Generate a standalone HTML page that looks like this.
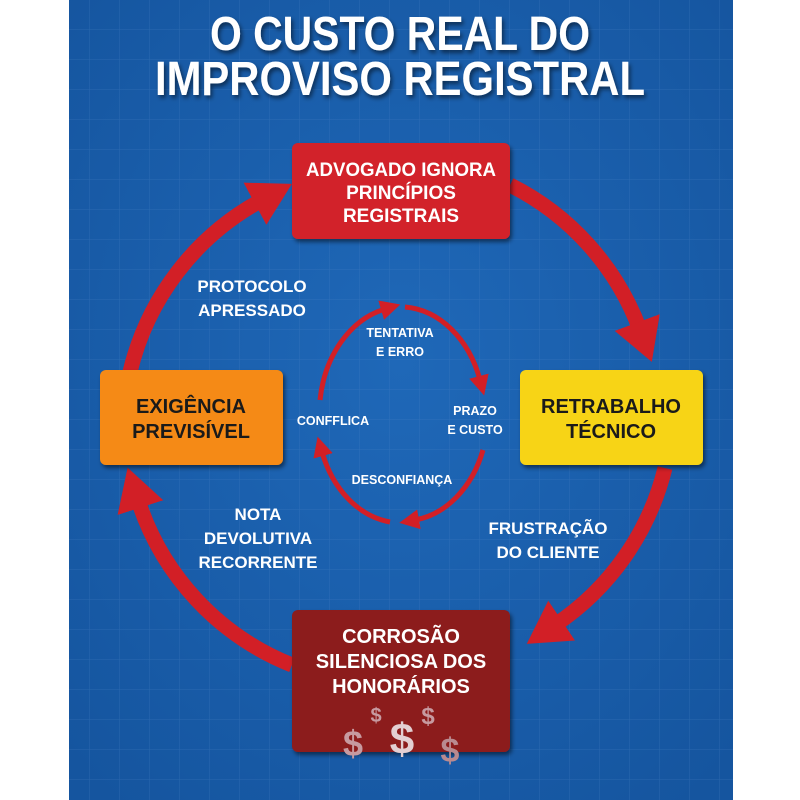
<!DOCTYPE html>
<html><head><meta charset="utf-8"><style>
html,body{margin:0;padding:0;background:#fff}
svg{display:block}
text{font-family:"Liberation Sans",sans-serif;font-weight:bold;fill:#fff;text-anchor:middle}
</style></head><body>
<svg width="800" height="800" viewBox="0 0 800 800" xmlns="http://www.w3.org/2000/svg">
<defs>
<pattern id="g" width="30" height="30" patternUnits="userSpaceOnUse">
<path d="M30 0V30H0" fill="none" stroke="#4f86c8" stroke-opacity="0.35" stroke-width="1"/>
</pattern>
<radialGradient id="bg" cx="50%" cy="45%" r="70%">
<stop offset="0" stop-color="#1f68b8"/><stop offset="1" stop-color="#15559f"/>
</radialGradient>
<marker id="big" markerUnits="userSpaceOnUse" markerWidth="60" markerHeight="60" refX="8" refY="24" orient="auto">
<path d="M0 0L42 24L0 48Z" fill="#d21f26"/>
</marker>
<marker id="sm" markerUnits="userSpaceOnUse" markerWidth="30" markerHeight="30" refX="4" refY="10" orient="auto">
<path d="M0 0L20 10L0 20Z" fill="#d21f26"/>
</marker>
<filter id="sh"><feDropShadow dx="2" dy="3" stdDeviation="2" flood-color="#000" flood-opacity="0.5"/></filter>
</defs>
<rect x="69" y="0" width="664" height="800" fill="url(#bg)"/>
<rect x="69" y="0" width="664" height="800" fill="url(#g)"/>

<g filter="url(#sh)">
<text x="400" y="50" font-size="48" textLength="380" lengthAdjust="spacingAndGlyphs">O CUSTO REAL DO</text>
<text x="400" y="95" font-size="48" textLength="490" lengthAdjust="spacingAndGlyphs">IMPROVISO REGISTRAL</text>
</g>

<g fill="none" stroke="#d21f26" stroke-width="15">
<path d="M130 372 A265 265 0 0 1 262 200" marker-end="url(#big)"/>
<path d="M510 185 A265 265 0 0 1 640 330" marker-end="url(#big)"/>
<path d="M665 468 A265 265 0 0 1 555 625" marker-end="url(#big)"/>
<path d="M292 665 A265 265 0 0 1 138 500" marker-end="url(#big)"/>
</g>
<g fill="none" stroke="#d21f26" stroke-width="5">
<path d="M320 400 A85 108 0 0 1 385 309" marker-end="url(#sm)"/>
<path d="M405 307 A85 108 0 0 1 480 380" marker-end="url(#sm)"/>
<path d="M483 450 A85 108 0 0 1 415 520" marker-end="url(#sm)"/>
<path d="M390 522 A85 108 0 0 1 322 452" marker-end="url(#sm)"/>
</g>

<g filter="url(#sh)">
<rect x="292" y="143" width="218" height="96" rx="6" fill="#d2232a"/>
<rect x="520" y="370" width="183" height="95" rx="6" fill="#f7d417"/>
<rect x="100" y="370" width="183" height="95" rx="6" fill="#f58a12"/>
<rect x="292" y="610" width="218" height="142" rx="6" fill="#8c1a1e"/>
</g>

<g font-size="19">
<text x="401" y="176" textLength="190" lengthAdjust="spacingAndGlyphs">ADVOGADO IGNORA</text>
<text x="401" y="199">PRINCÍPIOS</text>
<text x="401" y="222">REGISTRAIS</text>
</g>
<g font-size="20">
<text x="611" y="413" style="fill:#1a1a1a">RETRABALHO</text>
<text x="611" y="438" style="fill:#1a1a1a">TÉCNICO</text>
<text x="191" y="413" style="fill:#1a1a1a">EXIGÊNCIA</text>
<text x="191" y="438" style="fill:#1a1a1a">PREVISÍVEL</text>
</g>
<g font-size="20">
<text x="401" y="643">CORROSÃO</text>
<text x="401" y="668">SILENCIOSA DOS</text>
<text x="401" y="693">HONORÁRIOS</text>
</g>
<g>
<text x="353" y="756" font-size="36" style="fill:#c79aa0">$</text>
<text x="376" y="722" font-size="20" style="fill:#c79aa0">$</text>
<text x="402" y="754" font-size="44" style="fill:#e3cfd2">$</text>
<text x="428" y="724" font-size="24" style="fill:#c79aa0">$</text>
<text x="450" y="762" font-size="34" style="fill:#b98a90">$</text>
</g>

<g font-size="17">
<text x="252" y="292">PROTOCOLO</text>
<text x="252" y="316">APRESSADO</text>
<text x="258" y="520">NOTA</text>
<text x="258" y="544">DEVOLUTIVA</text>
<text x="258" y="568">RECORRENTE</text>
<text x="548" y="534">FRUSTRAÇÃO</text>
<text x="548" y="558">DO CLIENTE</text>
</g>
<g font-size="12.5">
<text x="400" y="337">TENTATIVA</text>
<text x="400" y="356">E ERRO</text>
<text x="333" y="425">CONFFLICA</text>
<text x="475" y="415">PRAZO</text>
<text x="475" y="434">E CUSTO</text>
<text x="402" y="484">DESCONFIANÇA</text>
</g>
</svg>
</body></html>
